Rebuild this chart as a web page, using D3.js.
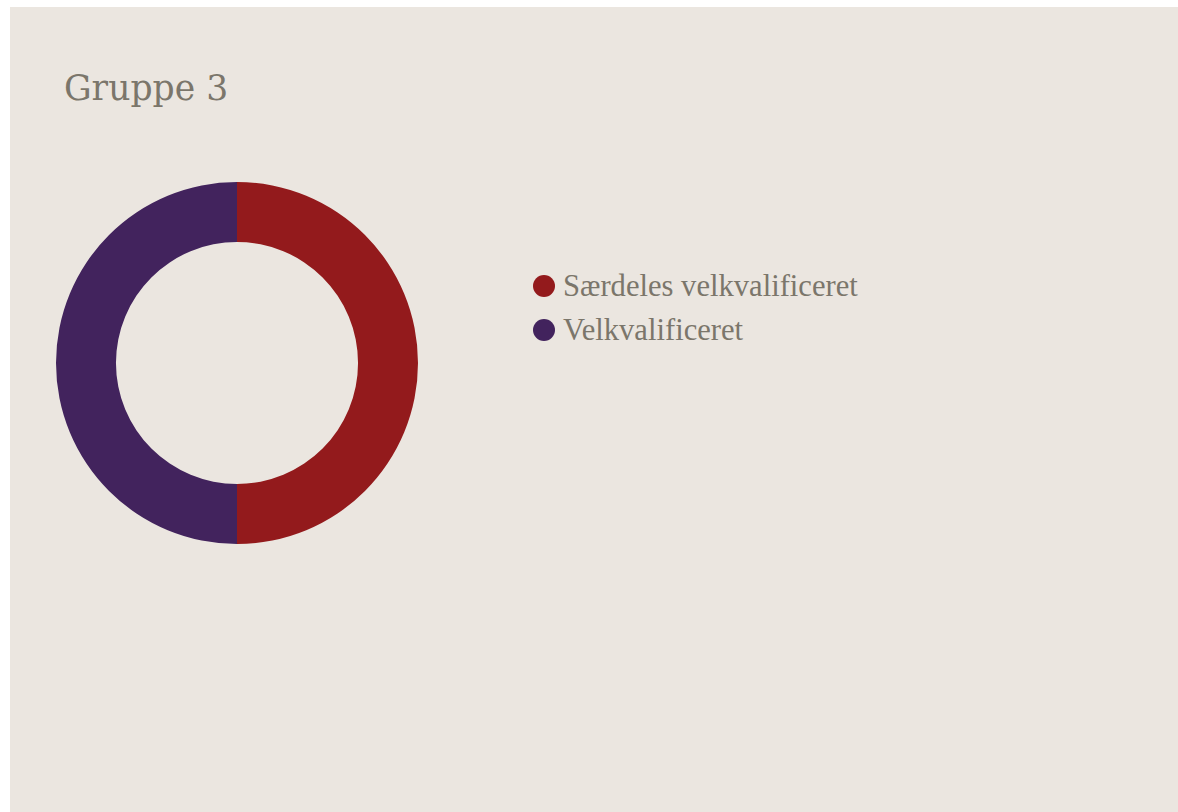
<!DOCTYPE html>
<html>
<head>
<meta charset="utf-8">
<script src="https://cdn.jsdelivr.net/npm/d3@7"></script>
<style>
  body { margin: 0; background: #fff; }
  svg { display: block; }
</style>
</head>
<body>
<svg id="chart" width="1178" height="812"></svg>
<script>
const categories = ['Særdeles velkvalificeret', 'Velkvalificeret'];
const values = [50, 50];
const colors = ['#931a1c', '#42235d'];
const title = 'Gruppe 3';

const svg = d3.select('svg#chart');
const textColor = '#7b766b';

svg.append('rect')
  .attr('x', 10).attr('y', 7)
  .attr('width', 1168).attr('height', 805)
  .style('fill', '#ebe6e0');

svg.append('text')
  .attr('x', 64).attr('y', 100)
  .style('font-family', 'Georgia, "DejaVu Serif", serif')
  .style('font-size', '34.6px')
  .style('fill', textColor)
  .text(title);

const pie = d3.pie().sort(null).value(d => d);
const arc = d3.arc().innerRadius(121).outerRadius(181);
const color = d3.scaleOrdinal().domain(categories).range(colors);

const g = svg.append('g').attr('transform', 'translate(237,363)');
g.selectAll('path').data(pie(values))
  .enter().append('path')
    .attr('d', arc)
    .style('fill', (d, i) => color(categories[i]));

const legend = svg.append('g').attr('transform', 'translate(544,286)');
const items = legend.selectAll('g').data(categories)
  .enter().append('g')
    .attr('transform', (d, i) => `translate(0,${i * 44})`);

items.append('circle')
  .attr('r', 11)
  .style('fill', d => color(d));

items.append('text')
  .attr('x', 19).attr('y', 10)
  .style('font-family', '"Liberation Serif", "Times New Roman", serif')
  .style('font-size', '30.6px')
  .style('fill', textColor)
  .text(d => d);
</script>
</body>
</html>
